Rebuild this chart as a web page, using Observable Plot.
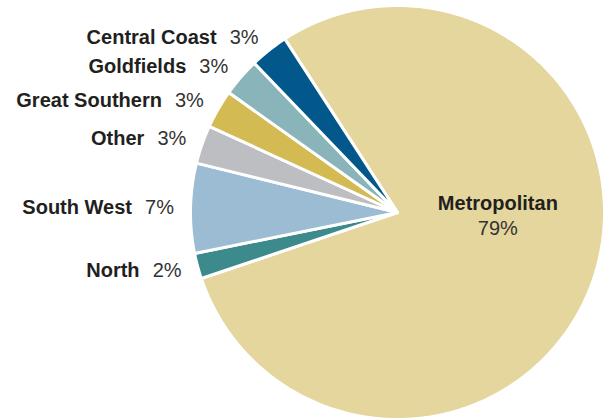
<!DOCTYPE html>
<html>
<head>
<meta charset="utf-8">
<script src="https://cdn.jsdelivr.net/npm/d3@7"></script>
<script src="https://cdn.jsdelivr.net/npm/@observablehq/plot@0.6"></script>
<style>
  html, body { margin: 0; padding: 0; background: #fff; }
  #chart { width: 603px; height: 420px; overflow: hidden; }
</style>
</head>
<body>
<div id="chart"></div>
<script>
// ---- data ----
const categories = ["Metropolitan", "North", "South West", "Other", "Great Southern", "Goldfields", "Central Coast"];
const values = [79, 2, 7, 3, 3, 3, 3];
const colors = ["#e4d69d", "#3d8a8d", "#9bbcd3", "#bdbec2", "#d4ba52", "#89b4b9", "#02578b"];

// ---- layout params ----
const W = 603, H = 420;
const cx = 397, cy = 212, R = 207;       // pixel centre & radius
const startDeg = -33;                   // clockwise from 12 o'clock
const labelR = 1.08;
const total = d3.sum(values);

// build slice polygons (geometry derived from the values)
const rad = d => d * Math.PI / 180;
const pts = [];
const labels = [];
let a = startDeg;
categories.forEach((cat, i) => {
  const span = values[i] / total * 360;
  const a0 = a, a1 = a + span;
  pts.push({cat, x: 0, y: 0});
  const n = Math.max(2, Math.ceil(span / 0.5));
  for (let k = 0; k <= n; k++) {
    const t = rad(a0 + (a1 - a0) * k / n);
    pts.push({cat, x: Math.sin(t), y: Math.cos(t)});
  }
  pts.push({cat, x: 0, y: 0});
  const mid = rad((a0 + a1) / 2);
  if (i === 0) {
    labels.push({cat, pct: values[i] + "%", x: 0.485 * Math.sin(rad(91.5)), y: 0.485 * Math.cos(rad(91.5)), main: true});
  } else {
    labels.push({cat, pct: values[i] + "%", x: labelR * Math.sin(mid), y: labelR * Math.cos(mid), main: false});
  }
  a = a1;
});

const side = labels.filter(d => !d.main);
const main = labels.filter(d => d.main);
const font = "'Liberation Sans', Arial, Helvetica, sans-serif";

const chart = Plot.plot({
  width: W,
  height: H,
  margin: 0,
  style: {fontFamily: font, background: "white", overflow: "visible"},
  x: {axis: null, domain: [(0 - cx) / R, (W - cx) / R]},
  y: {axis: null, domain: [(cy - H) / R, cy / R]},
  color: {domain: categories, range: colors},
  marks: [
    Plot.line(pts, {x: "x", y: "y", z: "cat", fill: "cat", stroke: "white", strokeWidth: 3, strokeLinejoin: "round", curve: "linear"}),
    Plot.text(side, {x: "x", y: "y", text: "pct", textAnchor: "end", fontSize: 20, fill: "#333"}),
    Plot.text(side, {x: "x", y: "y", text: "cat", textAnchor: "end", dx: -42, fontSize: 20, fontWeight: "bold", fill: "#231f20"}),
    Plot.text(main, {x: "x", y: "y", text: "cat", dy: -12, fontSize: 20, fontWeight: "bold", fill: "#231f20"}),
    Plot.text(main, {x: "x", y: "y", text: "pct", dy: 13, fontSize: 20, fill: "#333"})
  ]
});
document.getElementById("chart").appendChild(chart);
</script>
</body>
</html>
